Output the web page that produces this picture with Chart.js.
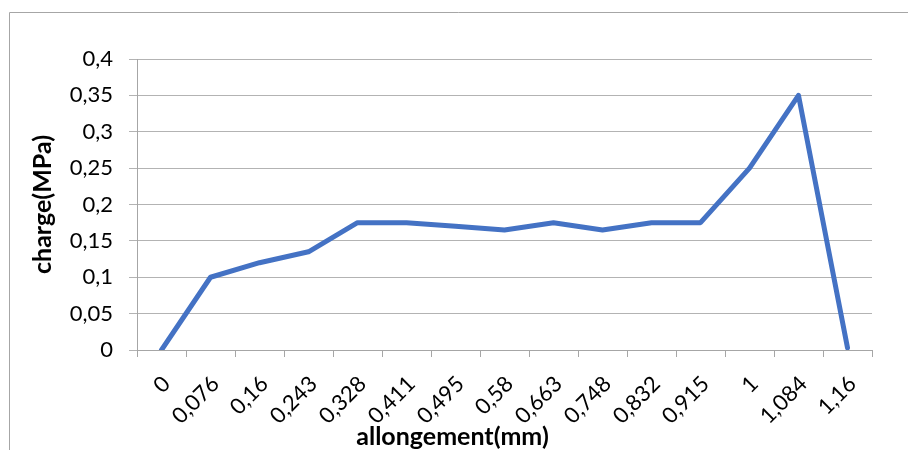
<!DOCTYPE html>
<html><head><meta charset="utf-8">
<script src="https://cdn.jsdelivr.net/npm/chart.js@4"></script>
<style>html,body{margin:0;padding:0;background:#fff}#w{width:908px;height:450px;position:relative}</style>
</head><body><div id="w"><canvas id="c" width="908" height="450"></canvas></div>
<script>
const categories = ["0","0,076","0,16","0,243","0,328","0,411","0,495","0,58","0,663","0,748","0,832","0,915","1","1,084","1,16"];
const chargeValues = [0, 0.1, 0.12, 0.135, 0.175, 0.175, 0.17, 0.165, 0.175, 0.165, 0.175, 0.175, 0.25, 0.35, 0.003];
const yTicks = [0, 0.05, 0.1, 0.15, 0.2, 0.25, 0.3, 0.35, 0.4];
const xTitle = "allongement(mm)";
const yTitle = "charge(MPa)";

const FONT = "Lato, 'Open Sans', sans-serif";
const fmt = v => String(v).replace('.', ',');

const framePlugin = {
  id: 'frame',
  beforeDraw(chart) {
    const ctx = chart.ctx;
    ctx.save();
    ctx.strokeStyle = '#a6a6a6';
    ctx.lineWidth = 1;
    ctx.beginPath();
    ctx.moveTo(9.5, 450);
    ctx.lineTo(9.5, 12.5);
    ctx.lineTo(908, 12.5);
    ctx.stroke();
    ctx.restore();
  },
  afterDraw(chart) {
    const ctx = chart.ctx;
    const a = chart.chartArea;
    ctx.save();
    ctx.fillStyle = '#000';
    ctx.font = "bold 25px " + FONT;
    ctx.textAlign = 'center';
    ctx.textBaseline = 'middle';
    ctx.fillText(xTitle, (a.left + a.right) / 2 - 52, 437);
    ctx.restore();
  }
};

new Chart(document.getElementById('c'), {
  type: 'line',
  data: {
    labels: categories,
    datasets: [{
      data: chargeValues,
      borderColor: '#4472C4',
      borderWidth: 5,
      pointRadius: 0,
      pointHoverRadius: 0,
      tension: 0,
      borderJoinStyle: 'round',
      borderCapStyle: 'round',
      fill: false
    }]
  },
  options: {
    responsive: false,
    animation: false,
    devicePixelRatio: 1,
    layout: { padding: { top: 59, right: 36, left: 28, bottom: 0 } },
    plugins: { legend: { display: false }, tooltip: { enabled: false } },
    scales: {
      x: {
        type: 'category',
        offset: true,
        grid: { display: true, offset: true, drawOnChartArea: false, drawTicks: true, tickLength: 7, color: '#a6a6a6' },
        border: { display: true, color: '#a6a6a6' },
        ticks: {
          autoSkip: false, maxRotation: 45, minRotation: 45, padding: 14, labelOffset: 5,
          color: '#000', font: { family: FONT, size: 22 }
        },
        afterFit(s) { s.height = 100; }
      },
      y: {
        min: 0, max: 0.4,
        afterBuildTicks(s) { s.ticks = yTicks.map(v => ({ value: v })); },
        grid: { color: '#b3b3b3', drawTicks: true, tickLength: 8 },
        border: { display: true, color: '#a6a6a6' },
        ticks: {
          padding: 16, color: '#000', font: { family: FONT, size: 22 },
          callback: v => fmt(v)
        },
        title: { display: true, text: yTitle, color: '#000', font: { family: FONT, size: 25, weight: 'bold' }, padding: { top: 0, bottom: 6 } },
        afterFit(s) { s.width = 109; }
      }
    }
  },
  plugins: [framePlugin]
});
</script>
</body></html>
